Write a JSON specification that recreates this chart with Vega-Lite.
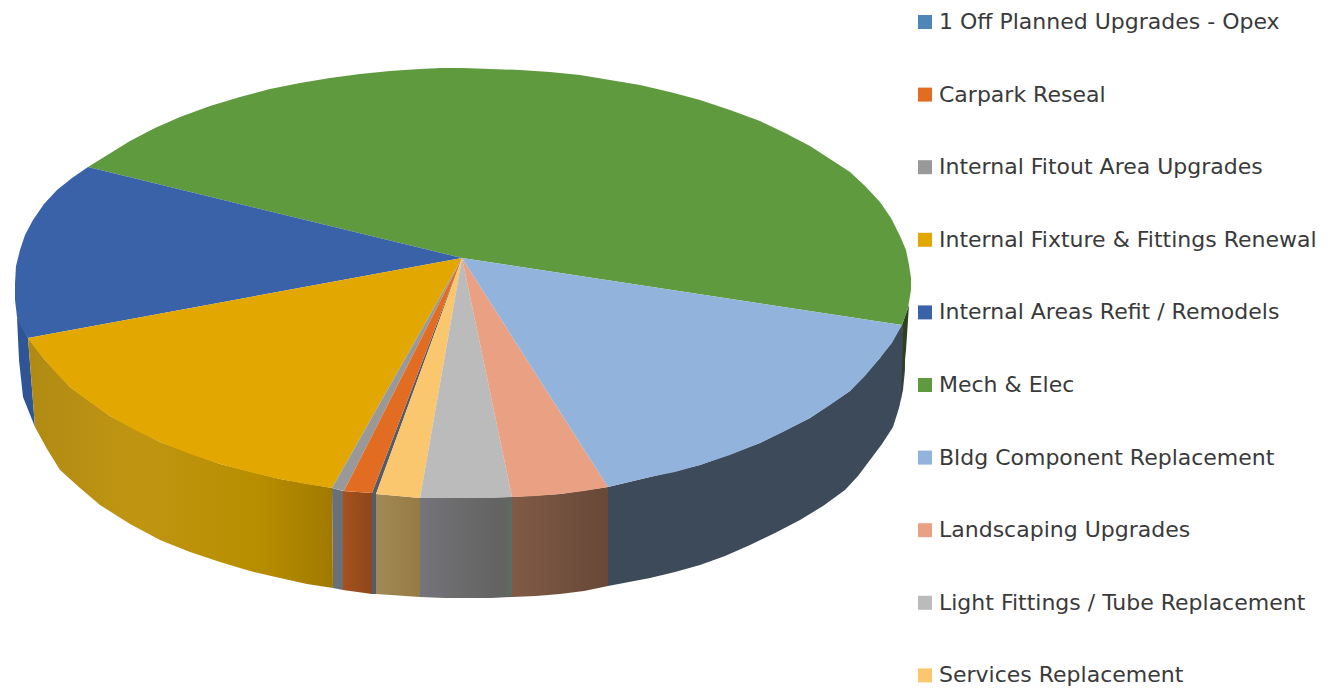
{"$schema":"https://vega.github.io/schema/vega-lite/v6.json","width":1330,"height":691,"padding":0,"autosize":{"type":"none"},"background":"white","config":{"view":{"stroke":null}},
"datasets":{
"top":[
{"slice":"Mech & Elec","i":0,"x":0,"y":0},{"slice":"Mech & Elec","i":1,"x":-374,"y":91},{"slice":"Mech & Elec","i":2,"x":-353,"y":104},{"slice":"Mech & Elec","i":3,"x":-332,"y":117},{"slice":"Mech & Elec","i":4,"x":-307,"y":130},{"slice":"Mech & Elec","i":5,"x":-282,"y":141},{"slice":"Mech & Elec","i":6,"x":-252,"y":152},{"slice":"Mech & Elec","i":7,"x":-222,"y":161},{"slice":"Mech & Elec","i":8,"x":-192,"y":169},{"slice":"Mech & Elec","i":9,"x":-162,"y":175},{"slice":"Mech & Elec","i":10,"x":-132,"y":180},{"slice":"Mech & Elec","i":11,"x":-102,"y":184},{"slice":"Mech & Elec","i":12,"x":-72,"y":187},{"slice":"Mech & Elec","i":13,"x":-42,"y":189},{"slice":"Mech & Elec","i":14,"x":-21,"y":190},{"slice":"Mech & Elec","i":15,"x":0,"y":190},{"slice":"Mech & Elec","i":16,"x":29,"y":189},{"slice":"Mech & Elec","i":17,"x":58,"y":188},{"slice":"Mech & Elec","i":18,"x":88,"y":186},{"slice":"Mech & Elec","i":19,"x":118,"y":183},{"slice":"Mech & Elec","i":20,"x":148,"y":178},{"slice":"Mech & Elec","i":21,"x":178,"y":173},{"slice":"Mech & Elec","i":22,"x":208,"y":166},{"slice":"Mech & Elec","i":23,"x":238,"y":158},{"slice":"Mech & Elec","i":24,"x":268,"y":148},{"slice":"Mech & Elec","i":25,"x":298,"y":137},{"slice":"Mech & Elec","i":26,"x":323,"y":125},{"slice":"Mech & Elec","i":27,"x":348,"y":112},{"slice":"Mech & Elec","i":28,"x":368,"y":99},{"slice":"Mech & Elec","i":29,"x":388,"y":86},{"slice":"Mech & Elec","i":30,"x":403,"y":72},{"slice":"Mech & Elec","i":31,"x":418,"y":56},{"slice":"Mech & Elec","i":32,"x":429,"y":40},{"slice":"Mech & Elec","i":33,"x":438,"y":22},{"slice":"Mech & Elec","i":34,"x":444,"y":8},{"slice":"Mech & Elec","i":35,"x":447,"y":-7},{"slice":"Mech & Elec","i":36,"x":449,"y":-20},{"slice":"Mech & Elec","i":37,"x":449,"y":-32},{"slice":"Mech & Elec","i":38,"x":446,"y":-50},{"slice":"Mech & Elec","i":39,"x":440,"y":-67},
{"slice":"Internal Areas Refit / Remodels","i":0,"x":0,"y":0},{"slice":"Internal Areas Refit / Remodels","i":1,"x":-434,"y":-80},{"slice":"Internal Areas Refit / Remodels","i":2,"x":-441,"y":-69},{"slice":"Internal Areas Refit / Remodels","i":3,"x":-445,"y":-59},{"slice":"Internal Areas Refit / Remodels","i":4,"x":-447,"y":-42},{"slice":"Internal Areas Refit / Remodels","i":5,"x":-447,"y":-25},{"slice":"Internal Areas Refit / Remodels","i":6,"x":-446,"y":-8},{"slice":"Internal Areas Refit / Remodels","i":7,"x":-442,"y":8},{"slice":"Internal Areas Refit / Remodels","i":8,"x":-437,"y":23},{"slice":"Internal Areas Refit / Remodels","i":9,"x":-429,"y":38},{"slice":"Internal Areas Refit / Remodels","i":10,"x":-418,"y":54},{"slice":"Internal Areas Refit / Remodels","i":11,"x":-405,"y":68},{"slice":"Internal Areas Refit / Remodels","i":12,"x":-390,"y":80},{"slice":"Internal Areas Refit / Remodels","i":13,"x":-374,"y":91},
{"slice":"Internal Fixture & Fittings Renewal","i":0,"x":0,"y":0},{"slice":"Internal Fixture & Fittings Renewal","i":1,"x":-130,"y":-230},{"slice":"Internal Fixture & Fittings Renewal","i":2,"x":-156,"y":-226},{"slice":"Internal Fixture & Fittings Renewal","i":3,"x":-182,"y":-221},{"slice":"Internal Fixture & Fittings Renewal","i":4,"x":-212,"y":-214},{"slice":"Internal Fixture & Fittings Renewal","i":5,"x":-242,"y":-206},{"slice":"Internal Fixture & Fittings Renewal","i":6,"x":-272,"y":-196},{"slice":"Internal Fixture & Fittings Renewal","i":7,"x":-302,"y":-184},{"slice":"Internal Fixture & Fittings Renewal","i":8,"x":-327,"y":-172},{"slice":"Internal Fixture & Fittings Renewal","i":9,"x":-352,"y":-158},{"slice":"Internal Fixture & Fittings Renewal","i":10,"x":-372,"y":-144},{"slice":"Internal Fixture & Fittings Renewal","i":11,"x":-392,"y":-129},{"slice":"Internal Fixture & Fittings Renewal","i":12,"x":-405,"y":-116},{"slice":"Internal Fixture & Fittings Renewal","i":13,"x":-417,"y":-102},{"slice":"Internal Fixture & Fittings Renewal","i":14,"x":-426,"y":-91},{"slice":"Internal Fixture & Fittings Renewal","i":15,"x":-434,"y":-80},
{"slice":"Internal Fitout Area Upgrades","i":0,"x":0,"y":0},{"slice":"Internal Fitout Area Upgrades","i":1,"x":-130,"y":-230},{"slice":"Internal Fitout Area Upgrades","i":2,"x":-118,"y":-233},
{"slice":"Carpark Reseal","i":0,"x":0,"y":0},{"slice":"Carpark Reseal","i":1,"x":-118,"y":-233},{"slice":"Carpark Reseal","i":2,"x":-90,"y":-235},
{"slice":"Services Replacement","i":0,"x":0,"y":0},{"slice":"Services Replacement","i":1,"x":-86,"y":-236},{"slice":"Services Replacement","i":2,"x":-42,"y":-240},
{"slice":"Light Fittings / Tube Replacement","i":0,"x":0,"y":0},{"slice":"Light Fittings / Tube Replacement","i":1,"x":-42,"y":-240},{"slice":"Light Fittings / Tube Replacement","i":2,"x":-17,"y":-240},{"slice":"Light Fittings / Tube Replacement","i":3,"x":8,"y":-240},{"slice":"Light Fittings / Tube Replacement","i":4,"x":29,"y":-240},{"slice":"Light Fittings / Tube Replacement","i":5,"x":50,"y":-239},
{"slice":"Landscaping Upgrades","i":0,"x":0,"y":0},{"slice":"Landscaping Upgrades","i":1,"x":50,"y":-239},{"slice":"Landscaping Upgrades","i":2,"x":74,"y":-238},{"slice":"Landscaping Upgrades","i":3,"x":98,"y":-236},{"slice":"Landscaping Upgrades","i":4,"x":122,"y":-233},{"slice":"Landscaping Upgrades","i":5,"x":146,"y":-229},
{"slice":"Bldg Component Replacement","i":0,"x":0,"y":0},{"slice":"Bldg Component Replacement","i":1,"x":146,"y":-229},{"slice":"Bldg Component Replacement","i":2,"x":167,"y":-224},{"slice":"Bldg Component Replacement","i":3,"x":188,"y":-219},{"slice":"Bldg Component Replacement","i":4,"x":213,"y":-214},{"slice":"Bldg Component Replacement","i":5,"x":238,"y":-207},{"slice":"Bldg Component Replacement","i":6,"x":268,"y":-197},{"slice":"Bldg Component Replacement","i":7,"x":298,"y":-185},{"slice":"Bldg Component Replacement","i":8,"x":323,"y":-173},{"slice":"Bldg Component Replacement","i":9,"x":348,"y":-160},{"slice":"Bldg Component Replacement","i":10,"x":368,"y":-147},{"slice":"Bldg Component Replacement","i":11,"x":388,"y":-133},{"slice":"Bldg Component Replacement","i":12,"x":403,"y":-118},{"slice":"Bldg Component Replacement","i":13,"x":418,"y":-100},{"slice":"Bldg Component Replacement","i":14,"x":430,"y":-85},{"slice":"Bldg Component Replacement","i":15,"x":440,"y":-67}
],
"side":[
{"face":"Internal Areas side","i":0,"x":-445,"y":-59},{"face":"Internal Areas side","i":1,"x":-434,"y":-80},{"face":"Internal Areas side","i":2,"x":-427,"y":-169},{"face":"Internal Areas side","i":3,"x":-439,"y":-139},{"face":"Internal Areas side","i":4,"x":-443,"y":-102},
{"face":"Fixture side","i":0,"x":-434,"y":-80},{"face":"Fixture side","i":1,"x":-417,"y":-102},{"face":"Fixture side","i":2,"x":-392,"y":-129},{"face":"Fixture side","i":3,"x":-352,"y":-158},{"face":"Fixture side","i":4,"x":-302,"y":-184},{"face":"Fixture side","i":5,"x":-242,"y":-206},{"face":"Fixture side","i":6,"x":-182,"y":-221},{"face":"Fixture side","i":7,"x":-130,"y":-230},{"face":"Fixture side","i":8,"x":-129,"y":-330},{"face":"Fixture side","i":9,"x":-155,"y":-326},{"face":"Fixture side","i":10,"x":-182,"y":-320},{"face":"Fixture side","i":11,"x":-212,"y":-313},{"face":"Fixture side","i":12,"x":-242,"y":-304},{"face":"Fixture side","i":13,"x":-272,"y":-294},{"face":"Fixture side","i":14,"x":-302,"y":-282},{"face":"Fixture side","i":15,"x":-332,"y":-266},{"face":"Fixture side","i":16,"x":-362,"y":-247},{"face":"Fixture side","i":17,"x":-382,"y":-230},{"face":"Fixture side","i":18,"x":-402,"y":-212},{"face":"Fixture side","i":19,"x":-415,"y":-191},{"face":"Fixture side","i":20,"x":-427,"y":-169},
{"face":"Fitout side","i":0,"x":-130,"y":-230},{"face":"Fitout side","i":1,"x":-119,"y":-233},{"face":"Fitout side","i":2,"x":-119,"y":-332},{"face":"Fitout side","i":3,"x":-129,"y":-330},
{"face":"Carpark side","i":0,"x":-119,"y":-233},{"face":"Carpark side","i":1,"x":-90,"y":-235},{"face":"Carpark side","i":2,"x":-90,"y":-336},{"face":"Carpark side","i":3,"x":-119,"y":-332},
{"face":"Inner wall","i":0,"x":0,"y":0},{"face":"Inner wall","i":1,"x":-90,"y":-235},{"face":"Inner wall","i":2,"x":-90,"y":-336},{"face":"Inner wall","i":3,"x":-86,"y":-336},{"face":"Inner wall","i":4,"x":-86,"y":-236},
{"face":"Services side","i":0,"x":-86,"y":-236},{"face":"Services side","i":1,"x":-42,"y":-240},{"face":"Services side","i":2,"x":-42,"y":-339},{"face":"Services side","i":3,"x":-86,"y":-336},
{"face":"Light side","i":0,"x":-42,"y":-240},{"face":"Light side","i":1,"x":8,"y":-240},{"face":"Light side","i":2,"x":50,"y":-239},{"face":"Light side","i":3,"x":50,"y":-339},{"face":"Light side","i":4,"x":29,"y":-340},{"face":"Light side","i":5,"x":8,"y":-340},{"face":"Light side","i":6,"x":-17,"y":-340},{"face":"Light side","i":7,"x":-42,"y":-339},
{"face":"Landscaping side","i":0,"x":50,"y":-239},{"face":"Landscaping side","i":1,"x":98,"y":-236},{"face":"Landscaping side","i":2,"x":146,"y":-229},{"face":"Landscaping side","i":3,"x":146,"y":-328},{"face":"Landscaping side","i":4,"x":122,"y":-333},{"face":"Landscaping side","i":5,"x":98,"y":-336},{"face":"Landscaping side","i":6,"x":74,"y":-338},{"face":"Landscaping side","i":7,"x":50,"y":-339},
{"face":"Bldg side","i":0,"x":146,"y":-229},{"face":"Bldg side","i":1,"x":188,"y":-219},{"face":"Bldg side","i":2,"x":238,"y":-207},{"face":"Bldg side","i":3,"x":298,"y":-185},{"face":"Bldg side","i":4,"x":348,"y":-160},{"face":"Bldg side","i":5,"x":388,"y":-133},{"face":"Bldg side","i":6,"x":418,"y":-100},{"face":"Bldg side","i":7,"x":440,"y":-67},{"face":"Bldg side","i":8,"x":443,"y":-92},{"face":"Bldg side","i":9,"x":443,"y":-112},{"face":"Bldg side","i":10,"x":441,"y":-132},{"face":"Bldg side","i":11,"x":437,"y":-150},{"face":"Bldg side","i":12,"x":431,"y":-169},{"face":"Bldg side","i":13,"x":420,"y":-186},{"face":"Bldg side","i":14,"x":408,"y":-202},{"face":"Bldg side","i":15,"x":396,"y":-218},{"face":"Bldg side","i":16,"x":383,"y":-232},{"face":"Bldg side","i":17,"x":361,"y":-248},{"face":"Bldg side","i":18,"x":338,"y":-262},{"face":"Bldg side","i":19,"x":313,"y":-275},{"face":"Bldg side","i":20,"x":288,"y":-287},{"face":"Bldg side","i":21,"x":263,"y":-298},{"face":"Bldg side","i":22,"x":238,"y":-307},{"face":"Bldg side","i":23,"x":213,"y":-314},{"face":"Bldg side","i":24,"x":188,"y":-320},{"face":"Bldg side","i":25,"x":167,"y":-324},{"face":"Bldg side","i":26,"x":146,"y":-328},
{"face":"Mech side","i":0,"x":447,"y":-47},{"face":"Mech side","i":1,"x":444,"y":-92},{"face":"Mech side","i":2,"x":439,"y":-142},{"face":"Mech side","i":3,"x":441,"y":-82},{"face":"Mech side","i":4,"x":440,"y":-67}
]},
"encoding":{
"x":{"field":"x","type":"quantitative","axis":null,"scale":{"domain":[-462,868],"nice":false,"zero":false}},
"y":{"field":"y","type":"quantitative","axis":null,"scale":{"domain":[-433,258],"nice":false,"zero":false}},
"order":{"field":"i","type":"quantitative"}},
"layer":[
{"data":{"name":"side"},"transform":[{"filter":"indexof(['Internal Areas side','Fitout side','Inner wall','Bldg side','Mech side'], datum.face) >= 0"}],"mark":{"type":"line","filled":true},
"encoding":{"fill":{"field":"face","type":"nominal","legend":null,"scale":{"domain":["Internal Areas side","Fitout side","Inner wall","Bldg side","Mech side"],"range":["#2F5597","#6B7078","#565B68","#3D4A59","#2E4020"]}}}},
{"data":{"name":"side"},"transform":[{"filter":"datum.face == 'Fixture side'"}],"mark":{"type":"line","filled":true,"fill":{"gradient":"linear","x1":0,"y1":0,"x2":1,"y2":0,"stops":[{"offset":0,"color":"#B08A14"},{"offset":0.35,"color":"#C09512"},{"offset":0.75,"color":"#B88E00"},{"offset":1,"color":"#A07A00"}]}}},
{"data":{"name":"side"},"transform":[{"filter":"datum.face == 'Carpark side'"}],"mark":{"type":"line","filled":true,"fill":{"gradient":"linear","x1":0,"y1":0,"x2":1,"y2":0,"stops":[{"offset":0,"color":"#A5521E"},{"offset":1,"color":"#8F461A"}]}}},
{"data":{"name":"side"},"transform":[{"filter":"datum.face == 'Services side'"}],"mark":{"type":"line","filled":true,"fill":{"gradient":"linear","x1":0,"y1":0,"x2":1,"y2":0,"stops":[{"offset":0,"color":"#A08A58"},{"offset":1,"color":"#977A42"}]}}},
{"data":{"name":"side"},"transform":[{"filter":"datum.face == 'Light side'"}],"mark":{"type":"line","filled":true,"fill":{"gradient":"linear","x1":0,"y1":0,"x2":1,"y2":0,"stops":[{"offset":0,"color":"#74747C"},{"offset":0.5,"color":"#6A6A6A"},{"offset":0.85,"color":"#636363"},{"offset":1,"color":"#5F6A60"}]}}},
{"data":{"name":"side"},"transform":[{"filter":"datum.face == 'Landscaping side'"}],"mark":{"type":"line","filled":true,"fill":{"gradient":"linear","x1":0,"y1":0,"x2":1,"y2":0,"stops":[{"offset":0,"color":"#805A46"},{"offset":1,"color":"#684838"}]}}},
{"data":{"name":"top"},"mark":{"type":"line","filled":true},
"encoding":{
"fill":{"field":"slice","type":"nominal","sort":null,
"scale":{"domain":["1 Off Planned Upgrades - Opex","Carpark Reseal","Internal Fitout Area Upgrades","Internal Fixture & Fittings Renewal","Internal Areas Refit / Remodels","Mech & Elec","Bldg Component Replacement","Landscaping Upgrades","Light Fittings / Tube Replacement","Services Replacement"],
"range":["#4F86B8","#E36C23","#999999","#E2A700","#3A62A8","#5F9A3F","#92B4DC","#E9A083","#BBBBBB","#FAC66E"]},
"legend":{"title":null,"orient":"none","legendX":914,"legendY":11,"symbolType":"square","symbolSize":196,"symbolStrokeWidth":0,"symbolOpacity":1,"labelFont":"DejaVu Sans","labelFontSize":22,"labelColor":"#3A3A3A","labelOffset":3,"labelLimit":420,"rowPadding":50.6,"padding":0}}
}}
],
"resolve":{"scale":{"fill":"independent"}}
}
